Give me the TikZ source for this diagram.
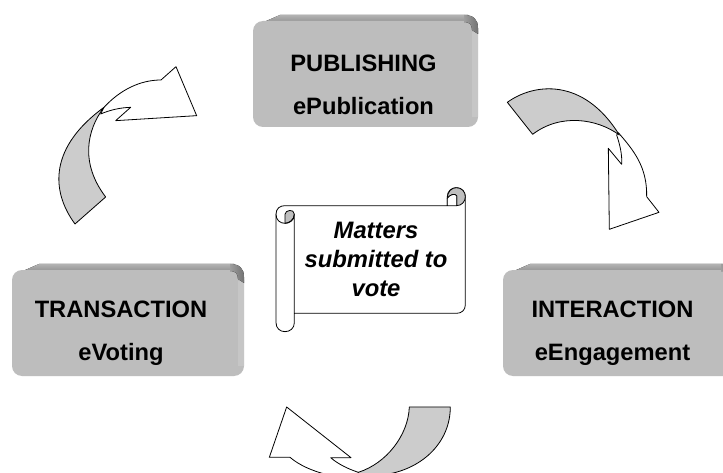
\documentclass[tikz,border=0pt]{standalone}
\usepackage{fontspec}
\setmainfont{Liberation Sans}
\definecolor{facegray}{HTML}{BDBDBD}
\definecolor{stripgray}{HTML}{C6C6C6}
\definecolor{bandgray}{HTML}{CCCCCC}
\tikzset{
  x=1pt,y=-1pt,
  boxtext/.style={font=\fontsize{23.7}{43}\selectfont\bfseries,align=center,text=black,inner sep=0pt},
  scrolltext/.style={font=\fontsize{23.8}{29}\bfseries\itshape\selectfont,align=center,text=black,inner sep=0pt},
  outline/.style={draw=black,line width=0.8pt,line join=round},
  whitepart/.style={outline,fill=white},
  greypart/.style={outline,fill=bandgray},
}
\newcommand{\slab}[4]{%
  % left, top, right, bottom
  \fill[top color=black!30,bottom color=black!48] (#1+4,#2+3) -- (#1+27,#2-7) -- (#3-10,#2-7) -- (#3-8,#2+3) -- cycle;
  \fill[facegray,rounded corners=10pt] (#1,#2-1) rectangle (#3,#4);
  \fill[stripgray] (#3-6,#2+10) rectangle (#3,#4-10);
  \fill[left color=black!38,right color=black!55] (#3-14,#2-7) .. controls (#3-4,#2-7) and (#3,#2-2) .. (#3,#2+6) -- (#3,#2+12) -- (#3-6,#2+8) .. controls (#3-6,#2+2) and (#3-9,#2) .. (#3-14,#2) -- cycle;
}
\begin{document}
\begin{tikzpicture}
\useasboundingbox (0,0) rectangle (723,473);
\clip (0,0) rectangle (723,473);
\fill[white] (0,0) rectangle (723,473);
% boxes
\slab{253}{22}{478}{127}
\slab{12}{271}{244}{376}
\slab{503}{271}{735}{376}
\node[boxtext,anchor=center] (pub) at (363.5,84.5) {PUBLISHING\\ePublication};
\node[boxtext,anchor=center] (tra) at (121,333.5) {TRANSACTION\\eVoting};
\node[boxtext,anchor=center] (int) at (612.5,333.5) {INTERACTION\\eEngagement};
% arrow top right
\begin{scope}[shift={(490,70)},x=0.3333pt,y=-0.3333pt]
\draw[whitepart] (385,188) .. controls (430,240) and (472,290) .. (470,380) -- (507,427) -- (358,478) -- (355,235) -- (395,283) .. controls (397,255) and (390,225) .. (380,195) -- cycle;
\draw[greypart] (52,97) .. controls (130,40) and (280,20) .. (388,195) .. controls (320,145) and (210,130) .. (128,193) -- cycle;
\end{scope}
% arrow top left
\begin{scope}[shift={(40,50)},x=0.3333pt,y=-0.3333pt]
\draw[whitepart] (192,172) .. controls (240,120) and (300,90) .. (363,90) -- (408,50) -- (470,197) -- (227,212) -- (272,172) .. controls (240,173) and (210,180) .. (182,192) -- cycle;
\draw[greypart] (105,522) .. controls (30,420) and (30,290) .. (192,172) .. controls (140,240) and (120,340) .. (197,441) -- cycle;
\end{scope}
% arrow bottom
\begin{scope}[shift={(240,365)},x=0.3333pt,y=-0.3333pt]
\draw[whitepart] (355,322) .. controls (325,312) and (295,298) .. (272,278) -- (333,278) -- (140,126) -- (88,277) -- (150,277) .. controls (180,302) and (215,316) .. (250,326) -- (250,345) -- (355,345) -- cycle;
\draw[greypart] (508,126) .. controls (505,210) and (440,295) .. (355,322) -- (355,345) -- (440,345) -- (440,328) .. controls (550,310) and (631,230) .. (631,126) -- cycle;
\end{scope}
% scroll
\begin{scope}[shift={(260,175)},x=0.3333pt,y=-0.3333pt]
\draw[whitepart] (48,118) .. controls (48,100) and (60,92) .. (75,92) -- (562,92) -- (562,65) .. controls (562,48) and (575,38) .. (589,38) .. controls (605,38) and (616,50) .. (616,65) -- (616,390) .. controls (616,405) and (605,415) .. (590,415) -- (103,415) -- (103,443) .. controls (103,460) and (90,470) .. (75,470) .. controls (60,470) and (48,460) .. (48,443) -- cycle;
\draw[greypart,fill=black!25] (75,118) .. controls (75,105) and (103,100) .. (103,118) .. controls (103,135) and (85,145) .. (75,145) -- cycle;
\draw[outline] (48,118) .. controls (48,135) and (60,145) .. (75,145) .. controls (90,145) and (103,135) .. (103,118) -- (103,415);
\draw[greypart,fill=black!25] (589,38) .. controls (605,38) and (616,50) .. (616,65) .. controls (616,80) and (605,92) .. (590,92) -- (590,62) .. controls (585,55) and (570,58) .. (562,70) .. controls (562,50) and (575,38) .. (589,38) -- cycle;
\draw[whitepart] (562,70) .. controls (570,58) and (585,55) .. (590,62) -- (590,92) -- (562,92) -- cycle;
\end{scope}
\node[scrolltext] (sc) at (376,259.5) {Matters\\submitted to\\vote};
\end{tikzpicture}
\end{document}
